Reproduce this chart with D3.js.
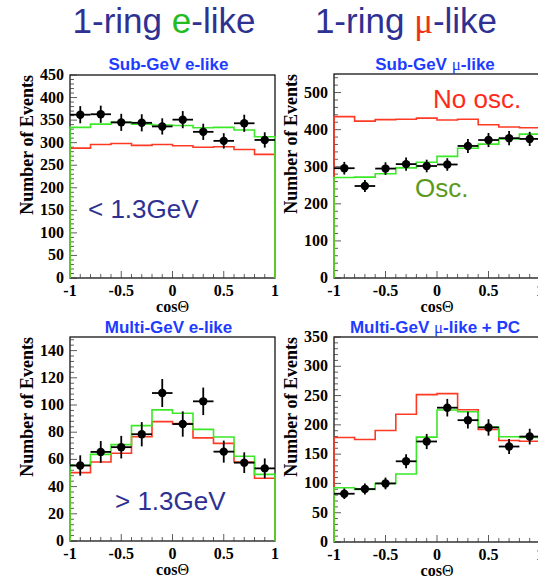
<!DOCTYPE html>
<html>
<head>
<meta charset="utf-8">
<script src="https://cdn.jsdelivr.net/npm/d3@7"></script>
<style>
  body { margin: 0; background: #fff; }
  svg { display: block; }
</style>
</head>
<body>
<div id="chart"></div>
<script>
// bin centres of cos(zenith), 10 bins of width 0.2
var cosBins = [-0.9, -0.7, -0.5, -0.3, -0.1, 0.1, 0.3, 0.5, 0.7, 0.9];

// Sub-GeV e-like
var subEData  = [362, 363, 345, 344, 336, 351, 324, 304, 343, 306];
var subEErr   = [19, 19, 19, 19, 18, 19, 18, 17, 19, 17];
var subEOsc   = [334, 341, 345, 341, 339, 338, 333, 334, 328, 313];
var subENoOsc = [288, 296, 298, 294, 296, 293, 290, 291, 285, 274];

// Sub-GeV mu-like
var subMuData  = [296, 248, 295, 307, 302, 306, 356, 372, 377, 375];
var subMuErr   = [17, 16, 17, 18, 17, 17, 19, 19, 19, 19];
var subMuOsc   = [271, 272, 281, 297, 312, 328, 350, 361, 375, 388];
var subMuNoOsc = [435, 423, 427, 428, 431, 426, 428, 413, 407, 405];

// Multi-GeV e-like
var multiEData  = [55.5, 65.5, 69, 78.5, 108.8, 86, 102.7, 65.7, 57.6, 53.4];
var multiEErr   = [7.5, 8, 8.3, 8.9, 10.3, 9.3, 10.1, 8.1, 7.6, 7.3];
var multiEOsc   = [55.7, 63.7, 70.9, 84.8, 96.4, 93.9, 82.1, 76.5, 62.3, 49];
var multiENoOsc = [50.3, 58.1, 64.5, 76.7, 87.8, 86.3, 75.8, 71.8, 58.1, 46.1];

// Multi-GeV mu-like + PC
var multiMuData  = [82.4, 90.4, 100, 137.8, 171.6, 229.3, 208, 195.6, 163, 180];
var multiMuErr   = [9, 9.5, 10, 12, 13, 15, 14.4, 14, 12.8, 13.4];
var multiMuOsc   = [92.6, 89.8, 100, 116, 179, 225.3, 222.5, 196.2, 179.6, 178.4];
var multiMuNoOsc = [178.4, 175, 190.4, 218, 251.6, 253.3, 225.9, 192, 173.3, 172.1];

var W = 538, H = 577;
var serif = "'Liberation Serif', 'Times New Roman', serif";
var sans = "'Liberation Sans', Arial, sans-serif";
var green = "#3ce828", red = "#ff3a24", navy = "#2e3192", titleBlue = "#1e3cff";

var svg = d3.select("#chart").append("svg")
    .attr("width", W)
    .attr("height", H);

// #### headers ####
var h1 = svg.append("text")
    .attr("x", 164).attr("y", 33)
    .attr("text-anchor", "middle")
    .style("font-family", sans).style("font-size", "35px").style("fill", navy);
h1.append("tspan").text("1-ring ");
h1.append("tspan").style("fill", "#22bb22").text("e");
h1.append("tspan").text("-like");

var h2 = svg.append("text")
    .attr("x", 406).attr("y", 33)
    .attr("text-anchor", "middle")
    .style("font-family", sans).style("font-size", "35px").style("fill", navy);
h2.append("tspan").text("1-ring ");
h2.append("tspan").style("fill", "#f03214").style("font-family", serif).text("μ");
h2.append("tspan").text("-like");

// #### panels ####
var panels = [
  {left: 70, right: 275, top: 75, bottom: 278, ymax: 450, major: 50, minor: 10,
   title: ["Sub-GeV e-like"], titleY: 70,
   data: subEData, err: subEErr, osc: subEOsc, noosc: subENoOsc},
  {left: 334, right: 540, top: 74, bottom: 278, ymax: 550, major: 100, minor: 20,
   title: ["Sub-GeV ", "μ", "-like"], titleY: 70,
   data: subMuData, err: subMuErr, osc: subMuOsc, noosc: subMuNoOsc},
  {left: 70, right: 275, top: 337, bottom: 541, ymax: 150, major: 20, minor: 4,
   title: ["Multi-GeV e-like"], titleY: 333,
   data: multiEData, err: multiEErr, osc: multiEOsc, noosc: multiENoOsc},
  {left: 334, right: 540, top: 337, bottom: 542, ymax: 350, major: 50, minor: 10,
   title: ["Multi-GeV ", "μ", "-like + PC"], titleY: 333,
   data: multiMuData, err: multiMuErr, osc: multiMuOsc, noosc: multiMuNoOsc}
];

panels.forEach(drawPanel);

function drawPanel(p) {
  var x = d3.scaleLinear().domain([-1, 1]).range([p.left, p.right]);
  var y = d3.scaleLinear().domain([0, p.ymax]).range([p.bottom, p.top]);
  var g = svg.append("g");

  // frame
  g.append("rect")
    .attr("x", p.left).attr("y", p.top)
    .attr("width", p.right - p.left).attr("height", p.bottom - p.top)
    .attr("fill", "none").attr("stroke", "#000").attr("stroke-width", 1.2);

  // minor + major ticks, drawn inside the frame
  var xMinor = d3.range(-1, 1.0001, 0.1);
  g.selectAll(".xtick").data(xMinor).enter().append("line")
    .attr("x1", d => x(d)).attr("x2", d => x(d))
    .attr("y1", p.bottom)
    .attr("y2", d => p.bottom - (Math.abs(d * 2 - Math.round(d * 2)) < 1e-6 ? 7 : 4))
    .attr("stroke", "#333").attr("stroke-width", 0.8);

  var yMinor = d3.range(0, p.ymax + 1e-6, p.minor);
  g.selectAll(".ytick").data(yMinor).enter().append("line")
    .attr("y1", d => y(d)).attr("y2", d => y(d))
    .attr("x1", p.left)
    .attr("x2", d => p.left + (Math.abs(d / p.major - Math.round(d / p.major)) < 1e-6 ? 7 : 4))
    .attr("stroke", "#333").attr("stroke-width", 0.8);

  // tick labels
  g.selectAll(".xlab").data([-1, -0.5, 0, 0.5, 1]).enter().append("text")
    .attr("x", d => x(d)).attr("y", p.bottom + 18)
    .attr("text-anchor", "middle")
    .style("font-family", serif).style("font-weight", "bold").style("font-size", "16px")
    .text(d => d3.format("")(d).replace("−", "-"));

  var yMajor = d3.range(0, p.ymax + 1e-6, p.major).filter(v => y(v) >= p.top + 8 || v === p.ymax);
  g.selectAll(".ylab").data(yMajor).enter().append("text")
    .attr("x", p.left - 6).attr("y", d => y(d) + 5)
    .attr("text-anchor", "end")
    .style("font-family", serif).style("font-weight", "bold").style("font-size", "16px")
    .text(d => d);

  // axis titles
  g.append("text")
    .attr("transform", "translate(" + (p.left - 37) + "," + p.top + ") rotate(-90)")
    .attr("text-anchor", "end")
    .style("font-family", serif).style("font-weight", "bold").style("font-size", "18px")
    .text("Number of Events");

  var xt = g.append("text")
    .attr("x", (p.left + p.right) / 2).attr("y", p.bottom + 34)
    .attr("text-anchor", "middle")
    .style("font-family", serif).style("font-weight", "bold").style("font-size", "16px");
  xt.append("tspan").text("cos");
  xt.append("tspan").style("font-weight", "normal").text("Θ");

  // panel title
  var t = g.append("text")
    .attr("x", (p.left + Math.min(p.right, 538)) / 2 + (p.left > 300 ? -1 : -4)).attr("y", p.titleY)
    .attr("text-anchor", "middle")
    .style("font-family", sans).style("font-weight", "bold").style("font-size", "17px")
    .style("fill", titleBlue);
  p.title.forEach(s => {
    var ts = t.append("tspan").text(s);
    if (s === "μ") ts.style("font-family", serif).style("font-weight", "normal");
  });

  // step histograms, dropping to zero at both ends
  function stepPath(vals) {
    var pts = [[x(-1), y(0)]];
    vals.forEach((v, i) => {
      pts.push([x(cosBins[i] - 0.1), y(v)]);
      pts.push([x(cosBins[i] + 0.1), y(v)]);
    });
    pts.push([x(1), y(0)]);
    return d3.line()(pts);
  }
  g.append("path").attr("d", stepPath(p.noosc))
    .attr("fill", "none").attr("stroke", red).attr("stroke-width", 1.6);
  g.append("path").attr("d", stepPath(p.osc))
    .attr("fill", "none").attr("stroke", green).attr("stroke-width", 1.6);

  // data points with error bars
  var pts = g.selectAll(".pt").data(cosBins).enter().append("g");
  pts.append("line")
    .attr("x1", d => x(d - 0.1)).attr("x2", d => x(d + 0.1))
    .attr("y1", (d, i) => y(p.data[i])).attr("y2", (d, i) => y(p.data[i]))
    .attr("stroke", "#000").attr("stroke-width", 1.8);
  pts.append("line")
    .attr("x1", d => x(d)).attr("x2", d => x(d))
    .attr("y1", (d, i) => y(p.data[i] - p.err[i])).attr("y2", (d, i) => y(p.data[i] + p.err[i]))
    .attr("stroke", "#000").attr("stroke-width", 1.8);
  pts.append("circle")
    .attr("cx", d => x(d)).attr("cy", (d, i) => y(p.data[i]))
    .attr("r", 4.2).attr("fill", "#000");
}

// #### annotations ####
function note(txt, xp, yp, col) {
  svg.append("text")
    .attr("x", xp).attr("y", yp)
    .style("font-family", sans).style("font-size", "26px").style("fill", col)
    .text(txt);
}
note("< 1.3GeV", 88, 218, navy);
note("> 1.3GeV", 115, 510, navy);
note("No osc.", 433, 108, "#ff2a1a");
note("Osc.", 415, 197, "#5a9a1a");
</script>
</body>
</html>
